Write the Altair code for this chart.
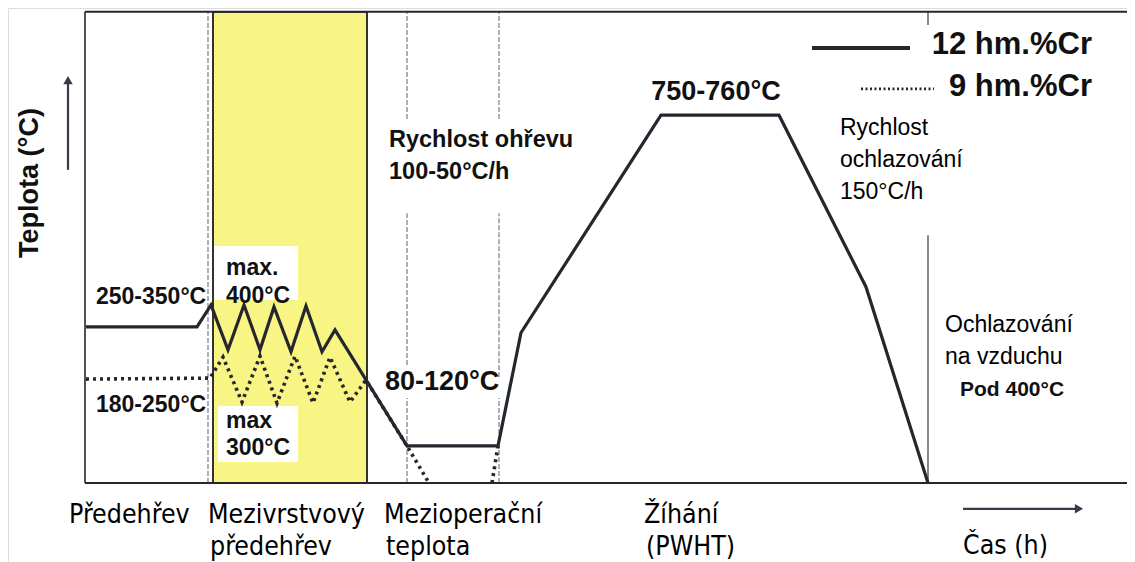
import altair as alt
import pandas as pd

# ---- data: time (arbitrary units), temperature (°C) ----
cr12_time = [1, 112, 126, 143, 159, 175, 189, 206, 221, 237, 250, 322, 413, 436, 576, 694, 781, 843]
cr12_temp = [320, 320, 365, 273, 365, 273, 361, 269, 363, 269, 314, 76, 76, 308, 754, 754, 402, 0]

cr9_time = [1, 125, 138, 157, 175, 192, 210, 228, 245, 265, 281, 322, 344, 407, 413]
cr9_temp = [213, 215, 258, 166, 260, 164, 260, 164, 258, 166, 211, 76, 0, 0, 76]
cr9_part = [0, 0, 0, 0, 0, 0, 0, 0, 0, 0, 0, 0, 0, 1, 1]

legend_labels = ["12 hm.%Cr", "9 hm.%Cr"]
stage_labels = ["Předehřev", "Mezivrstvový\npředehřev", "Mezioperační\nteplota", "Žíhání\n(PWHT)"]

# ---- layout helpers (data units) ----
T_TOP = 966
W, H = 1119, 554
XDOM = [-77, 1042]
YDOM = [(483 - 8 - H) * 2.05, (483 - 8) * 2.05]

xs = alt.Scale(domain=XDOM, nice=False, zero=False)
ys = alt.Scale(domain=YDOM, nice=False, zero=False)
LINE = "#26262e"
GRAY = "#9c9ca6"
FONT = "Liberation Sans"
NARROW = "Liberation Sans Narrow, DejaVu Sans Condensed, Liberation Sans"


def X(f="t"):
    return alt.X(f"{f}:Q", scale=xs, axis=None)


def Y(f="T"):
    return alt.Y(f"{f}:Q", scale=ys, axis=None)


def rules(rows, color, width, dash=None):
    df = pd.DataFrame(rows, columns=["t", "t2", "T", "T2"])
    kw = dict(color=color, strokeWidth=width)
    if dash:
        kw["strokeDash"] = dash
    return alt.Chart(df).mark_rule(**kw).encode(
        x=X(), x2="t2:Q", y=Y(), y2="T2:Q")


def texts(rows, size, weight="bold", align="left", font=FONT, color="#111111", angle=0):
    df = pd.DataFrame(rows, columns=["label", "t", "T"])
    kw = dict(fontSize=size, fontWeight=weight, align=align, baseline="middle",
              font=font, color=color)
    if angle:
        kw["angle"] = angle
    return alt.Chart(df).mark_text(**kw).encode(x=X(), y=Y(), text="label:N")


# yellow interpass band
band = alt.Chart(pd.DataFrame({"t": [128], "t2": [282], "T": [0], "T2": [T_TOP]})).mark_rect(
    color="#f8f584", stroke="#1e1e1e", strokeWidth=1.8).encode(
    x=X(), x2="t2:Q", y=Y(), y2="T2:Q")

# white boxes behind the "max" labels
boxes = alt.Chart(pd.DataFrame({"t": [129, 133], "t2": [213, 213], "T": [375, 43], "T2": [486, 158]})).mark_rect(
    color="white").encode(x=X(), x2="t2:Q", y=Y(), y2="T2:Q")

# frame
frame = rules([[0, 1042, T_TOP, T_TOP], [0, 1042, 0, 0]], LINE, 2) + \
    rules([[0, 0, 0, T_TOP]], LINE, 1.6)

# gray guide lines
guides = rules([
    [123, 123, 0, T_TOP],
    [322, 322, 746, T_TOP], [322, 322, 242, 553], [322, 322, 0, 174],
    [414, 414, 746, T_TOP], [414, 414, 217, 553], [414, 414, 0, 174],
], GRAY, 1.6, [5, 2])
guide_right = rules([[843, 843, 939, T_TOP], [843, 843, 0, 508]], "#55555e", 1.4)

# process curves
df12 = pd.DataFrame({"t": cr12_time, "T": cr12_temp, "o": range(len(cr12_time))})
df9 = pd.DataFrame({"t": cr9_time, "T": cr9_temp, "p": cr9_part, "o": range(len(cr9_time))})

line12 = alt.Chart(df12).mark_line(color=LINE, strokeWidth=3.2, strokeJoin="miter").encode(
    x=X(), y=Y(), order="o:Q")
line9 = alt.Chart(df9).mark_line(color=LINE, strokeWidth=3.6, strokeDash=[3, 4]).encode(
    x=X(), y=Y(), detail="p:N", order="o:Q")

# legend
leg_solid = rules([[727, 825, 892, 892]], LINE, 4)
leg_dot = rules([[776, 849, 808, 808]], LINE, 2.6, [2, 2.5])
leg_text = texts([[legend_labels[0], 1007, 898], [legend_labels[1], 1007, 812]], 31, align="right")

# axis arrows
arrows = rules([[-17, -17, 642, 820], [878, 990, -53, -53]], "#3a3a48", 2.2)
heads = alt.Chart(pd.DataFrame({"t": [-17], "T": [826]})).mark_point(
    shape="triangle-up", filled=True, size=90, color="#3a3a48", opacity=1).encode(x=X(), y=Y())
head_r = alt.Chart(pd.DataFrame({"t": [994], "T": [-53]})).mark_point(
    shape="triangle-right", filled=True, size=90, color="#3a3a48", opacity=1).encode(x=X(), y=Y())

# annotations
ann_big = texts([["750-760°C", 631, 802]], 27, align="center")
ann_bold = texts([
    ["250-350°C", 11, 381],
    ["max.", 141, 441],
    ["400°C", 141, 383],
    ["180-250°C", 11, 160],
    ["max", 141, 127],
    ["300°C", 141, 72],
], 23)
ann_8012 = texts([["80-120°C", 300, 207]], 27)
ann_heat = texts([
    ["Rychlost ohřevu", 304, 703],
    ["100-50°C/h", 304, 638],
], 23.5)
ann_reg = texts([
    ["Rychlost", 755, 728],
    ["ochlazování", 755, 662],
    ["150°C/h", 755, 597],
    ["Ochlazování", 860, 324],
    ["na vzduchu", 860, 258],
], 23, weight="normal", color="#000000")
ann_pod = texts([["Pod 400°C", 875, 191]], 21)
ylabel = texts([["Teplota (°C)", -55, 615]], 27, align="center", angle=270)

stage_rows = []
stage_pos = [(-16, -66), (123, -66), (299, -66), (559, -66)]
for lab, (t0, T0) in zip(stage_labels, stage_pos):
    parts = lab.split("\n")
    stage_rows.append([parts[0], t0, T0])
    if len(parts) > 1:
        stage_rows.append([parts[1], t0 + 2, -131])
stage_rows.append(["Čas (h)", 878, -129])
stages = texts(stage_rows, 26.5, weight="normal", font=NARROW, color="#000000")

chart = alt.layer(
    band, guides, guide_right, frame, boxes, line9, line12,
    leg_solid, leg_dot, leg_text, arrows, heads, head_r,
    ann_big, ann_bold, ann_8012, ann_heat, ann_reg, ann_pod, ylabel, stages,
).properties(
    width=W, height=H, padding=0,
    autosize=alt.AutoSizeParams(type="none"),
).configure_view(stroke=None).configure(background="white")

chart.save("out.html", embed_options={"renderer": "svg", "actions": False})
